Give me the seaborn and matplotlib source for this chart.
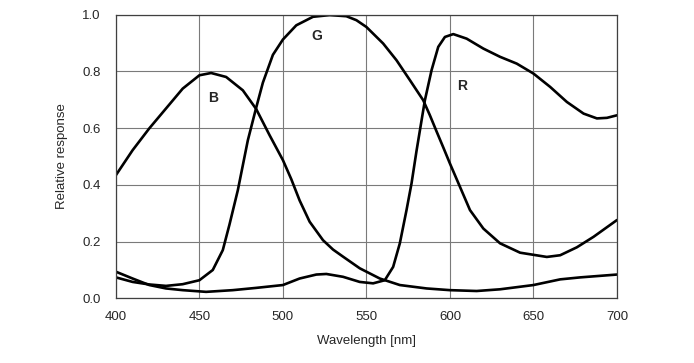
import matplotlib
matplotlib.use("Agg")
import matplotlib.pyplot as plt
import pandas as pd
import seaborn as sns

# values
wl_b = [400, 410, 420, 430, 440, 450, 457, 466, 476, 484, 492, 500, 505, 510, 516,
        524, 530, 536, 546, 558, 570, 586, 600, 616, 630, 650, 666, 678, 700]
resp_b = [0.434, 0.522, 0.599, 0.669, 0.739, 0.786, 0.794, 0.78, 0.733, 0.667, 0.575,
          0.487, 0.42, 0.345, 0.27, 0.205, 0.172, 0.147, 0.106, 0.07, 0.047, 0.035,
          0.029, 0.026, 0.032, 0.047, 0.067, 0.074, 0.084]

wl_g = [400, 410, 420, 430, 440, 450, 458, 464, 468, 473, 479, 484, 488, 494, 500,
        508, 518, 528, 538, 544, 550, 560, 568, 576, 584, 588, 592, 596, 600, 606,
        612, 620, 630, 642, 658, 666, 676, 686, 700]
resp_g = [0.074, 0.058, 0.049, 0.044, 0.05, 0.064, 0.1, 0.17, 0.26, 0.381, 0.557,
          0.672, 0.76, 0.858, 0.912, 0.962, 0.992, 0.998, 0.994, 0.98, 0.956, 0.898,
          0.839, 0.769, 0.698, 0.645, 0.588, 0.532, 0.475, 0.393, 0.311, 0.246,
          0.194, 0.161, 0.146, 0.152, 0.18, 0.217, 0.276]

wl_r = [400, 410, 420, 430, 440, 454, 470, 484, 500, 510, 520, 526, 536, 546, 554,
        561, 566, 570, 574, 577, 580, 585, 589, 593, 597, 602, 610, 620, 630, 640,
        650, 660, 670, 680, 688, 694, 700]
resp_r = [0.094, 0.07, 0.047, 0.035, 0.029, 0.023, 0.029, 0.037, 0.047, 0.07, 0.084,
          0.086, 0.076, 0.058, 0.053, 0.064, 0.111, 0.194, 0.311, 0.405, 0.52, 0.698,
          0.804, 0.886, 0.921, 0.931, 0.915, 0.88, 0.851, 0.827, 0.792, 0.745, 0.692,
          0.651, 0.634, 0.636, 0.645]

curve_names = ["B", "G", "R"]
label_x = [458, 520, 607]
label_y = [0.705, 0.923, 0.748]

df = pd.concat([
    pd.DataFrame({"wavelength": wl_b, "response": resp_b, "channel": "B"}),
    pd.DataFrame({"wavelength": wl_g, "response": resp_g, "channel": "G"}),
    pd.DataFrame({"wavelength": wl_r, "response": resp_r, "channel": "R"}),
])

sns.set_style("white")
plt.rcParams["font.family"] = ["Liberation Sans", "DejaVu Sans"]

fig = plt.figure(figsize=(6.94, 3.63), dpi=100)
ax = fig.add_axes([0.167, 0.178, 0.722, 0.782])

sns.lineplot(data=df, x="wavelength", y="response", units="channel",
             estimator=None, color="black", linewidth=1.9, sort=False,
             legend=False, ax=ax)

for name, lx, ly in zip(curve_names, label_x, label_y):
    ax.text(lx, ly, name, fontsize=10, fontweight="bold", ha="center", va="center")

ax.set_xlim(400, 700)
ax.set_ylim(0, 1.0)
ax.set_xticks(range(400, 701, 50))
ax.set_yticks([0.0, 0.2, 0.4, 0.6, 0.8, 1.0])
ax.set_yticklabels([f"{v:.1f}" for v in ax.get_yticks()])
ax.grid(True, color="#7a7a7a", linewidth=0.8)
ax.set_axisbelow(True)
for sp in ax.spines.values():
    sp.set_color("#404040")
    sp.set_linewidth(0.9)
ax.tick_params(length=0, labelsize=9.5)
ax.tick_params(axis="x", pad=9)
ax.tick_params(axis="y", pad=11)
ax.set_xlabel("Wavelength [nm]", fontsize=9.5, labelpad=9)
ax.set_ylabel("Relative response", fontsize=9.5, labelpad=10)

plt.savefig("out.png", dpi=100)
plt.close()
